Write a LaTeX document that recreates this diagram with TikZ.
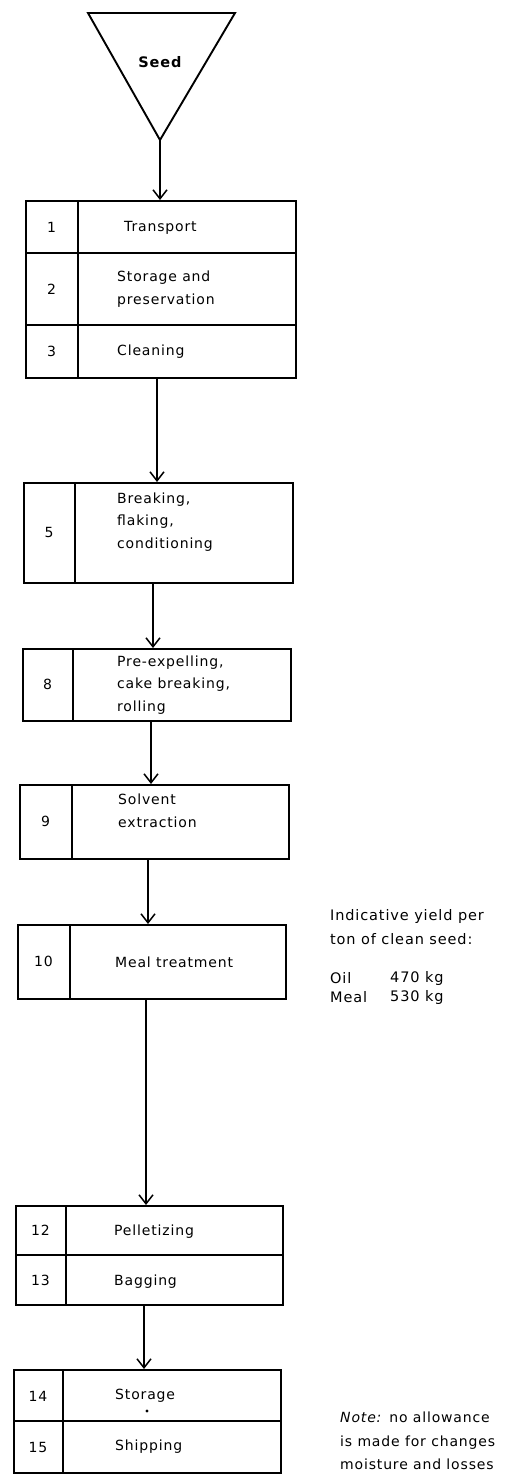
\documentclass[tikz,border=0pt]{standalone}
\usepackage{fontspec}
\setmainfont[LetterSpace=6]{DejaVu Sans}
\usetikzlibrary{arrows.meta}
\begin{document}
\begin{tikzpicture}[x=1pt,y=-1pt,
  frame/.style={draw, line width=1.8pt, inner sep=0pt, anchor=north west},
  divider/.style={line width=1.6pt},
  lab/.style={font=\fontsize{14}{22.5}\selectfont, inner sep=0pt, anchor=west, align=left},
  num/.style={font=\fontsize{14}{16}\selectfont, inner sep=0pt},
  side/.style={font=\fontsize{14.5}{24}\selectfont, inner sep=0pt, anchor=west, align=left},
  arr/.style={line width=1.5pt, -{Straight Barb[length=9pt,width=14pt,line width=1.5pt]}}]
\useasboundingbox (0,0) rectangle (505,1475);

% Seed triangle
\coordinate (tl) at (88,13);
\coordinate (tr) at (235,13);
\coordinate (apex) at (160,140);
\draw[line width=1.9pt, line join=miter] (tl) -- (tr) -- (apex) -- cycle;
\node[font=\bfseries\fontsize{14.5}{16}\selectfont, inner sep=0pt] (seed) at (160,62) {Seed};

% Block 1-3
\node[frame, minimum width=270pt, minimum height=177pt] (b1) at (25,200) {};
\draw[divider] (78,200) -- (78,377);
\draw[divider] (25,253) -- (295,253);
\draw[divider] (25,325) -- (295,325);
\node[num] (n1) at (51.5,227) {1};
\node[num] (n2) at (51.5,289) {2};
\node[num] (n3) at (51.5,351) {3};
\node[lab] (t1) at (124,228) {Transport};
\node[lab] (t2) at (117,289) {Storage and\\preservation};
\node[lab] (t3) at (117,352) {Cleaning};

% Block 5
\node[frame, minimum width=269pt, minimum height=100pt] (b5) at (23,482) {};
\draw[divider] (75,482) -- (75,582);
\node[num] (n5) at (49,532) {5};
\node[lab] (t5) at (117,522) {Breaking,\\flaking,\\conditioning};

% Block 8
\node[frame, minimum width=268pt, minimum height=72pt] (b8) at (22,648) {};
\draw[divider] (73,648) -- (73,720);
\node[num] (n8) at (47.5,684) {8};
\node[lab] (t8) at (117,685) {Pre-expelling,\\cake breaking,\\rolling};

% Block 9
\node[frame, minimum width=269pt, minimum height=74pt] (b9) at (19,784) {};
\draw[divider] (72,784) -- (72,858);
\node[num] (n9) at (45.5,821) {9};
\node[lab] (t9) at (118,811) {Solvent\\extraction};

% Block 10
\node[frame, minimum width=268pt, minimum height=74pt] (b10) at (17,924) {};
\draw[divider] (70,924) -- (70,998);
\node[num] (n10) at (43.5,961) {10};
\node[lab] (t10) at (115,962) {Meal treatment};

% Block 12-13
\node[frame, minimum width=267pt, minimum height=99pt] (b12) at (15,1205) {};
\draw[divider] (66,1205) -- (66,1304);
\draw[divider] (15,1255) -- (282,1255);
\node[num] (n12) at (40.5,1230) {12};
\node[num] (n13) at (40.5,1280) {13};
\node[lab] (t12) at (114,1232) {Pelletizing};
\node[lab] (t13) at (114,1282) {Bagging};

% Block 14-15
\node[frame, minimum width=267pt, minimum height=103pt] (b14) at (13,1369) {};
\draw[divider] (63,1369) -- (63,1472);
\draw[divider] (13,1421) -- (280,1421);
\node[num] (n14) at (38,1396) {14};
\node[num] (n15) at (38,1447) {15};
\node[lab] (t14) at (115,1396) {Storage};
\node[lab] (t15) at (115,1447) {Shipping};
\fill (147,1411) circle (1.6pt);

% Connectors
\draw[arr] (apex) -- (apex |- b1.north);
\draw[arr] (157,377) coordinate (c1) -- (c1 |- b5.north);
\draw[arr] (153,582) coordinate (c5) -- (c5 |- b8.north);
\draw[arr] (151,720) coordinate (c8) -- (c8 |- b9.north);
\draw[arr] (148,858) coordinate (c9) -- (c9 |- b10.north);
\draw[arr] (146,998) coordinate (c10) -- (c10 |- b12.north);
\draw[arr] (144,1304) coordinate (c12) -- (c12 |- b14.north);

% Side notes
\node[side] (yield) at (330,927) {Indicative yield per\\ton of clean seed:};
\node[side] (oil) at (330,978) {Oil};
\node[side] (oilv) at (390,978) {470 kg};
\node[side] (meal) at (330,997) {Meal};
\node[side] (mealv) at (390,997) {530 kg};
\node[side, font=\fontsize{14}{23.5}\selectfont] (note) at (340,1441) {\textit{Note:} no allowance\\is made for changes\\moisture and losses};
\end{tikzpicture}
\end{document}
